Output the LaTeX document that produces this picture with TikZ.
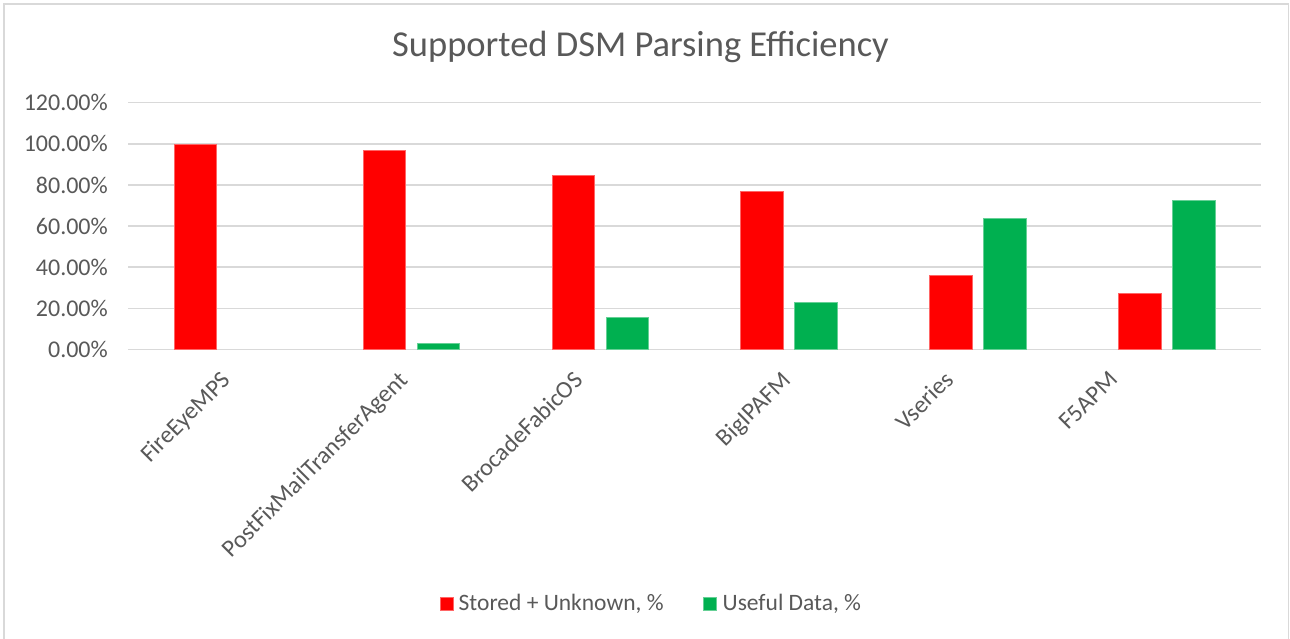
\documentclass[tikz,border=0pt]{standalone}
\usepackage{fontspec}
\setmainfont{Carlito}
\definecolor{txt}{HTML}{595959}
\definecolor{grid}{HTML}{D9D9D9}
\definecolor{redbar}{HTML}{FF0000}
\definecolor{greenbar}{HTML}{00B050}
\tikzset{
  gridline/.style={draw=grid, line width=1.4pt},
  framebox/.style={draw=grid, line width=1.2pt},
  redcol/.style={fill=redbar, draw=redbar!60!white, line width=0.5pt},
  greencol/.style={fill=greenbar, draw=greenbar!60!white, line width=0.5pt},
  ticklabel/.style={anchor=east, inner sep=0pt, text=txt, font=\fontsize{24}{24}\selectfont},
  catlabel/.style={anchor=north east, rotate=45, inner sep=0pt, text=txt, font=\fontsize{24.3}{24.3}\selectfont},
  legtext/.style={anchor=base west, inner sep=0pt, text=txt, font=\fontsize{23.5}{23.5}\selectfont},
  titletext/.style={anchor=base, inner sep=0pt, text=txt, font=\fontsize{36.5}{36.5}\selectfont}
}
\begin{document}
\begin{tikzpicture}[x=1pt,y=-1pt]
\useasboundingbox (0,0) rectangle (1290,638);
\path[fill=white] (0,0) rectangle (1290,638);
% frame (bottom edge outside the picture)
\draw[framebox] (4,640) -- (4,4) -- (1288.5,4) -- (1288.5,640);
% title
\node[titletext] (title) at (640.5,56.5) {Supported DSM Parsing Efficiency};
% grid lines and tick labels
\foreach \v/\lab in {0/0.00\%,20/20.00\%,40/40.00\%,60/60.00\%,80/80.00\%,100/100.00\%,120/120.00\%}{
  \pgfmathsetmacro{\yy}{349.3-2.055*\v}
  \draw[gridline] (128,\yy) -- (1261,\yy);
  \node[ticklabel] (t\v) at (108,\yy) {\lab};
}
% bars and category labels
\foreach \i/\r/\g/\name/\lx in {1/100/0/FireEyeMPS/220,2/97.1/2.9/PostFixMailTransferAgent/397,3/84.5/15.4/BrocadeFabicOS/572,4/76.9/23.0/BigIPAFM/780,5/36.2/63.7/Vseries/943,6/27.4/72.5/F5APM/1108}{
  \pgfmathsetmacro{\cc}{128+188.83*(\i-0.5)}
  \pgfmathsetmacro{\ry}{349.3-2.055*\r}
  \pgfmathsetmacro{\gy}{349.3-2.055*\g}
  \path[redcol] (\cc-48.2,\ry) rectangle (\cc-5.8,349.3);
  \ifdim\g pt>0.5pt
    \path[greencol] (\cc+5.8,\gy) rectangle (\cc+48.2,349.3);
  \fi
  \node[catlabel] (c\i) at (\lx,369.5) {\name};
}
% legend
\path[redcol] (440,597) rectangle (453.3,610.3);
\node[legtext] (l1) at (458.5,610) {Stored + Unknown, \%};
\path[greencol] (703.3,597) rectangle (716.6,610.3);
\node[legtext] (l2) at (722.5,610) {Useful Data, \%};
\end{tikzpicture}
\end{document}
